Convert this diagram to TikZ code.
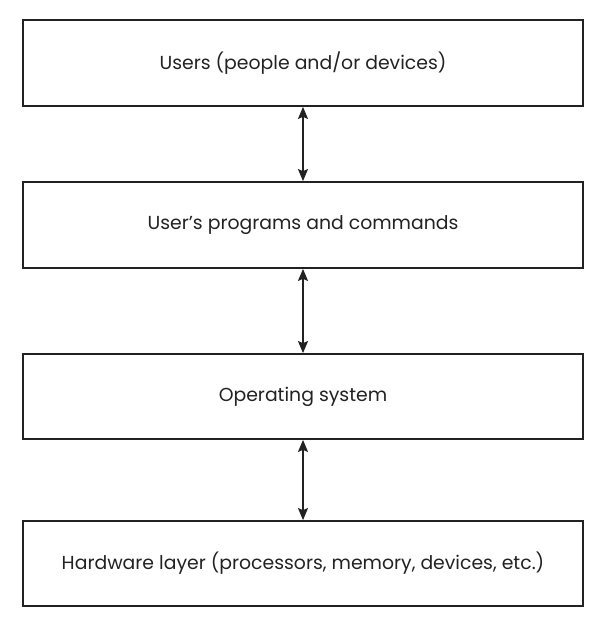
\documentclass[tikz,border=0pt]{standalone}
\usepackage{fontspec}
\setmainfont{Poppins}
\usetikzlibrary{arrows.meta}
\definecolor{ink}{HTML}{222222}
\tikzset{
  layer/.style={draw=ink, line width=1.8bp, minimum width=560bp, inner sep=0pt, text=ink, font=\fontsize{18.9}{22}\selectfont},
  link/.style={draw=ink, line width=1.5bp, {Stealth[length=12bp,width=10bp,inset=2bp]}-{Stealth[length=12bp,width=10bp,inset=2bp]}}
}
\begin{document}
\begin{tikzpicture}[x=1bp,y=-1bp]
\useasboundingbox (0,0) rectangle (598,619);
\node[layer, minimum height=86bp] (users) at (303,63) {Users (people and/or devices)};
\node[layer, minimum height=86bp] (progs) at (303,225) {User’s programs and commands};
\node[layer, minimum height=85bp] (os) at (303,396.5) {Operating system};
\node[layer, minimum height=85bp] (hw) at (303,563.5) {Hardware layer (processors, memory, devices, etc.)};
\draw[link] (users.south) -- (progs.north);
\draw[link] (progs.south) -- (os.north);
\draw[link] (os.south) -- (hw.north);
\end{tikzpicture}
\end{document}
